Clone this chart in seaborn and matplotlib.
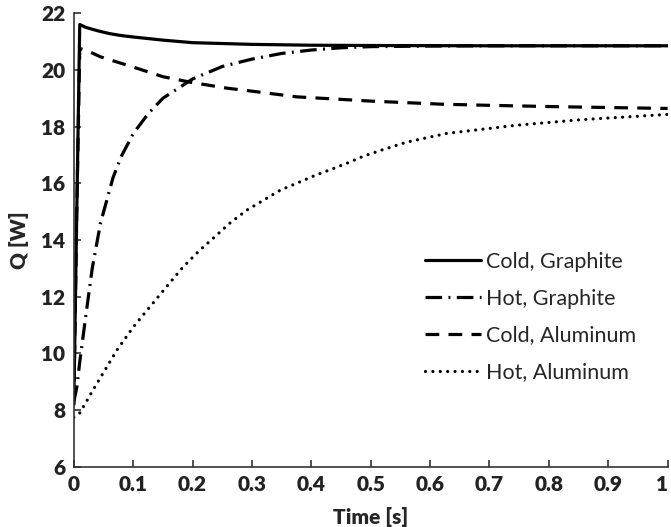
import matplotlib
matplotlib.use("Agg")
import matplotlib.pyplot as plt
import seaborn as sns
import pandas as pd

# ---- data ----
t_cold_graphite = [0.0, 0.005, 0.01, 0.02, 0.04, 0.06, 0.08, 0.10, 0.15, 0.20, 0.30, 0.40, 0.50, 0.70, 1.00]
q_cold_graphite = [8.2, 15.0, 21.6, 21.5, 21.38, 21.28, 21.21, 21.16, 21.05, 20.96, 20.90, 20.87, 20.86, 20.85, 20.85]

t_hot_graphite = [0.0, 0.005, 0.01, 0.02, 0.031, 0.045, 0.066, 0.08, 0.10, 0.125, 0.15, 0.20, 0.25, 0.30,
                  0.35, 0.40, 0.45, 0.50, 0.60, 0.70, 1.00]
q_hot_graphite = [8.3, 8.8, 9.7, 11.3, 13.0, 14.6, 16.2, 16.95, 17.75, 18.45, 19.0, 19.68, 20.12, 20.38,
                  20.58, 20.70, 20.78, 20.82, 20.84, 20.85, 20.85]

t_cold_aluminum = [0.0, 0.005, 0.01, 0.02, 0.045, 0.10, 0.15, 0.20, 0.26, 0.30, 0.375, 0.50, 0.62, 0.70, 0.82, 1.00]
q_cold_aluminum = [8.2, 15.0, 20.75, 20.70, 20.46, 20.10, 19.76, 19.55, 19.35, 19.25, 19.05, 18.90, 18.79, 18.75, 18.70, 18.64]

t_hot_aluminum = [0.0, 0.01, 0.032, 0.072, 0.10, 0.128, 0.156, 0.184, 0.212, 0.234, 0.263, 0.291, 0.347,
                  0.375, 0.403, 0.459, 0.487, 0.515, 0.56, 0.628, 0.746, 0.858, 1.00]
q_hot_aluminum = [7.75, 7.9, 8.7, 10.1, 10.93, 11.64, 12.35, 13.05, 13.64, 14.05, 14.6, 15.05, 15.75,
                  16.0, 16.25, 16.7, 16.95, 17.15, 17.45, 17.76, 18.05, 18.25, 18.43]

labels = ["Cold, Graphite", "Hot, Graphite", "Cold, Aluminum", "Hot, Aluminum"]
x_ticks = [0, 0.1, 0.2, 0.3, 0.4, 0.5, 0.6, 0.7, 0.8, 0.9, 1]
x_ticklabels = ["0", "0.1", "0.2", "0.3", "0.4", "0.5", "0.6", "0.7", "0.8", "0.9", "1"]
y_ticks = [6, 8, 10, 12, 14, 16, 18, 20, 22]

sns.set_theme(style="ticks")
plt.rcParams["font.family"] = ["Lato", "DejaVu Sans"]

fig = plt.figure(figsize=(6.71, 5.27), dpi=100)
ax = fig.add_axes([0.110, 0.114, 0.885, 0.861])

series = [
    (t_cold_graphite, q_cold_graphite, "-", "butt"),
    (t_hot_graphite, q_hot_graphite, (0, (5.2, 2.0, 0.6, 2.0)), "butt"),
    (t_cold_aluminum, q_cold_aluminum, (0, (4.3, 2.9)), "butt"),
    (t_hot_aluminum, q_hot_aluminum, (0, (0.01, 2.3)), "round"),
]
for (t, q, ls, cap), lab in zip(series, labels):
    df = pd.DataFrame({"t": t, "q": q})
    sns.lineplot(data=df, x="t", y="q", ax=ax, color="black", lw=2.3,
                 linestyle=ls, dash_capstyle=cap, label=lab, sort=False)

ax.set_xlim(0, 1)
ax.set_ylim(6, 22)
ax.set_xticks(x_ticks)
ax.set_xticklabels(x_ticklabels)
ax.set_yticks(y_ticks)
for sp in ["top", "right"]:
    ax.spines[sp].set_visible(False)
for sp in ["left", "bottom"]:
    ax.spines[sp].set_linewidth(1.2)
    ax.spines[sp].set_color("#333333")
ax.tick_params(direction="in", length=5, width=1.2, color="#333333",
               labelsize=15, pad=6)
for lbl in ax.get_xticklabels() + ax.get_yticklabels():
    lbl.set_fontweight("heavy")
    lbl.set_color("#222222")
ax.get_xticklabels()[-1].set_horizontalalignment("right")

ax.set_xlabel("Time [s]", fontsize=15, fontweight="heavy", labelpad=9)
ax.set_ylabel("Q [W]", fontsize=15, fontweight="heavy", labelpad=9)

leg = ax.legend(loc="center left", bbox_to_anchor=(0.591, 0.330), frameon=False,
                fontsize=15.5, handlelength=2.6, handletextpad=0.25,
                labelspacing=0.78, borderpad=0, borderaxespad=0)

fig.savefig("out.png", dpi=100)
